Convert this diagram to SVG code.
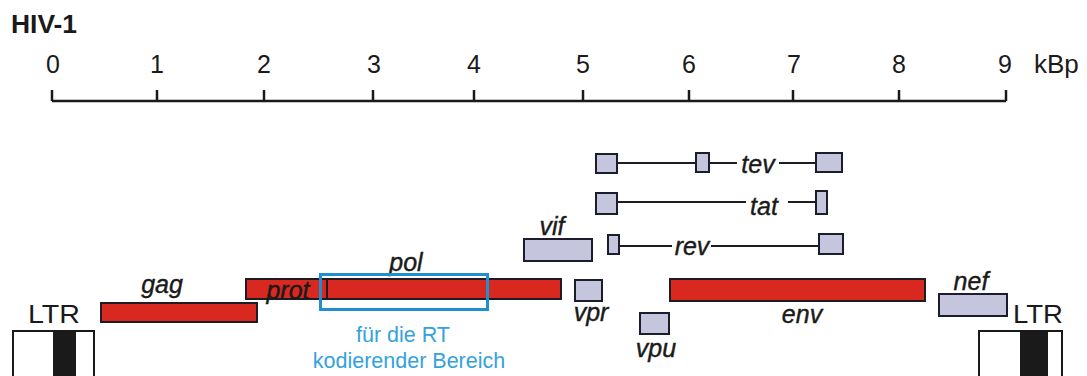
<svg xmlns="http://www.w3.org/2000/svg" width="1087" height="376" viewBox="0 0 1087 376">
<style>
  .num { font-family: "Liberation Sans", Arial, sans-serif; font-size: 25px; fill: #1a1a1a; text-anchor: middle; }
  .lbl { font-family: "Liberation Sans", Arial, sans-serif; font-size: 25px; font-style: italic; fill: #1a1a1a; stroke: #1a1a1a; stroke-width: 0.4; text-anchor: middle; }
  .ltr { font-family: "Liberation Sans", Arial, sans-serif; font-size: 26px; fill: #1a1a1a; text-anchor: middle; }
  .red { fill: #d9281f; stroke: #1c1c24; stroke-width: 2; }
  .lav { fill: #c6c5de; stroke: #1c1c2c; stroke-width: 2; }
  .ln { stroke: #1c1c24; stroke-width: 2; fill: none; }
  .axis { stroke: #1a1a1a; stroke-width: 2.5; fill: none; }
  .blue { font-family: "Liberation Sans", Arial, sans-serif; font-size: 21.5px; fill: #34a2dc; text-anchor: middle; }
</style>
<rect width="1087" height="376" fill="#ffffff"/>

<g id="title">
  <text x="11" y="33" font-family="Liberation Sans, Arial, sans-serif" font-size="25" font-weight="bold" fill="#1a1a1a" textLength="66" lengthAdjust="spacingAndGlyphs">HIV-1</text>
</g>

<g id="scale">
  <path class="axis" d="M52,101 H1006 M52,90 V101 M157,90 V101 M264,90 V101 M373,90 V101 M474,90 V101 M583,90 V101 M689,90 V101 M793,90 V101 M899,90 V101 M1006,90 V101"/>
  <text class="num" x="53" y="73">0</text>
  <text class="num" x="157" y="73">1</text>
  <text class="num" x="264" y="73">2</text>
  <text class="num" x="374" y="73">3</text>
  <text class="num" x="474" y="73">4</text>
  <text class="num" x="583" y="73">5</text>
  <text class="num" x="689" y="73">6</text>
  <text class="num" x="794" y="73">7</text>
  <text class="num" x="899" y="73">8</text>
  <text class="num" x="1005" y="73">9</text>
  <text x="1034" y="73" font-family="Liberation Sans, Arial, sans-serif" font-size="26" fill="#1a1a1a">kBp</text>
</g>

<g id="connectors">
  <path class="ln" d="M618,163 H695 M710,163 H737 M779,163 H815"/>
  <path class="ln" d="M618,202 H746 M788,202 H815"/>
  <path class="ln" d="M620,246 H672 M711,246 H818"/>
</g>

<g id="tev">
  <rect class="lav" x="596" y="154" width="21" height="19"/>
  <rect class="lav" x="696" y="153" width="13" height="19"/>
  <rect class="lav" x="816" y="153" width="26" height="19"/>
  <text class="lbl" x="758" y="173">tev</text>
</g>

<g id="tat">
  <rect class="lav" x="596" y="193" width="21" height="21"/>
  <rect class="lav" x="816" y="191" width="11" height="23"/>
  <text class="lbl" x="764" y="215">tat</text>
</g>

<g id="rev">
  <rect class="lav" x="608" y="235" width="11" height="19"/>
  <rect class="lav" x="819" y="234" width="24" height="20"/>
  <text class="lbl" x="692" y="255">rev</text>
</g>

<g id="vif">
  <rect class="lav" x="524" y="239" width="68" height="22"/>
  <text class="lbl" x="552" y="235">vif</text>
</g>

<g id="gag">
  <rect class="red" x="101" y="303" width="156" height="19"/>
  <text class="lbl" x="162" y="293">gag</text>
</g>

<g id="prot">
  <rect class="red" x="246" y="279" width="83" height="20"/>
  <text class="lbl" x="288" y="299">prot</text>
</g>

<g id="pol">
  <rect class="red" x="327" y="279" width="234" height="20"/>
  <text class="lbl" x="406" y="271">pol</text>
</g>

<g id="rt-region">
  <rect x="320.5" y="274.5" width="167" height="35" fill="none" stroke="#1f8fd0" stroke-width="3"/>
  <text class="blue" x="403" y="342">für die RT</text>
  <text class="blue" x="409" y="368">kodierender Bereich</text>
</g>

<g id="vpr">
  <rect class="lav" x="575" y="280" width="27" height="21"/>
  <text class="lbl" x="591" y="321">vpr</text>
</g>

<g id="vpu">
  <rect class="lav" x="640" y="313" width="29" height="21"/>
  <text class="lbl" x="656" y="357">vpu</text>
</g>

<g id="env">
  <rect class="red" x="670" y="279" width="255" height="22"/>
  <text class="lbl" x="802" y="323">env</text>
</g>

<g id="nef">
  <rect class="lav" x="939" y="294" width="68" height="22"/>
  <text class="lbl" x="971" y="290">nef</text>
</g>

<g id="ltr-left">
  <rect x="13" y="331" width="81" height="60" fill="#ffffff" stroke="#1a1a1a" stroke-width="2"/>
  <rect x="53" y="331" width="23" height="60" fill="#1a1a1a"/>
  <text class="ltr" x="54" y="323" textLength="52" lengthAdjust="spacingAndGlyphs">LTR</text>
</g>

<g id="ltr-right">
  <rect x="979" y="331" width="83" height="60" fill="#ffffff" stroke="#1a1a1a" stroke-width="2"/>
  <rect x="1020" y="331" width="28" height="60" fill="#1a1a1a"/>
  <text class="ltr" x="1038" y="323" textLength="50" lengthAdjust="spacingAndGlyphs">LTR</text>
</g>
</svg>
